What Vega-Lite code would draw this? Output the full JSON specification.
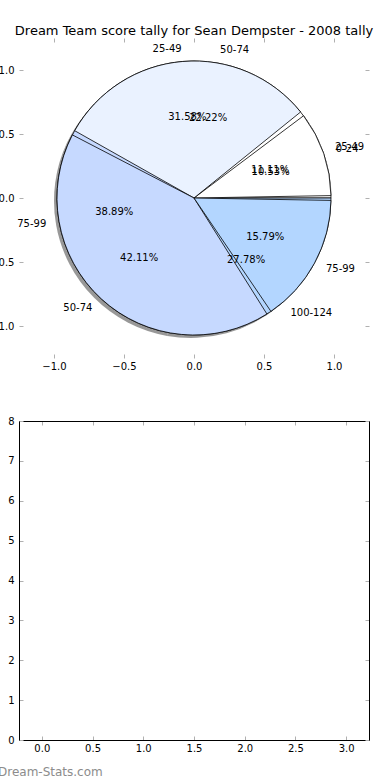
{
  "$schema": "https://vega.github.io/schema/vega-lite/v6.json",
  "background": "white",
  "autosize": {"type": "pad"},
  "padding": {"left": -11, "top": 24, "right": 5, "bottom": 2},
  "bounds": "flush",
  "spacing": 63,
  "datasets": {
    "tally1": [
      {"label": "0-24", "k": 0, "share": 0.105263},
      {"label": "25-49", "k": 1, "share": 0.315789},
      {"label": "50-74", "k": 2, "share": 0.421053},
      {"label": "75-99", "k": 3, "share": 0.157895}
    ],
    "tally2": [
      {"label": "25-49", "k": 0, "share": 0.111111},
      {"label": "50-74", "k": 1, "share": 0.222222},
      {"label": "75-99", "k": 2, "share": 0.388889},
      {"label": "100-124", "k": 3, "share": 0.277778}
    ]
  },
  "config": {
    "font": "DejaVu Sans",
    "view": {"stroke": null},
    "axis": {
      "labelFont": "DejaVu Sans",
      "labelFontSize": 10,
      "labelColor": "#000000",
      "tickColor": "#b0b0b0",
      "tickSize": -4,
      "tickWidth": 1,
      "grid": false,
      "labelPadding": 9,
      "domain": false
    },
    "axisX": {"labelPadding": 7.5},
    "text": {"font": "DejaVu Sans", "fontSize": 10, "color": "#000000"}
  },
  "vconcat": [
    {
      "width": 350,
      "height": 320,
      "title": {
        "text": "Dream Team score tally for Sean Dempster - 2008 tally",
        "fontSize": 13,
        "fontWeight": "normal",
        "color": "#000000",
        "font": "DejaVu Sans",
        "offset": 0
      },
      "resolve": {"axis": {"x": "independent", "y": "independent"}},
      "layer": [
        {
          "data": {"values": [{}]},
          "mark": {"type": "point", "opacity": 0},
          "encoding": {
            "x": {"datum": 0, "type": "quantitative", "title": null,
              "scale": {"domain": [-1.25, 1.25], "nice": false, "zero": false},
              "axis": {"orient": "bottom", "values": [-1, -0.5, 0, 0.5, 1], "format": ".1f"}},
            "y": {"datum": 0, "type": "quantitative", "title": null,
              "scale": {"domain": [-1.25, 1.25], "nice": false, "zero": false},
              "axis": {"orient": "left", "values": [-1, -0.5, 0, 0.5, 1], "format": ".1f"}}
          }
        },
        {
          "data": {"values": [{}]},
          "mark": {"type": "point", "opacity": 0},
          "encoding": {
            "x": {"datum": 0, "type": "quantitative", "title": null,
              "axis": {"orient": "top", "values": [-1, -0.5, 0, 0.5, 1], "labels": false}},
            "y": {"datum": 0, "type": "quantitative", "title": null,
              "axis": {"orient": "right", "values": [-1, -0.5, 0, 0.5, 1], "labels": false}}
          }
        },
        {
          "data": {"name": "tally2"},
          "mark": {"type": "arc", "radius": 137, "fill": "#444444", "opacity": 0.55, "xOffset": -3, "yOffset": 3},
          "encoding": {
            "theta": {"field": "share", "type": "quantitative", "stack": true,
              "scale": {"domain": [0, 1], "range": [1.5707963, -4.712389]}},
            "order": {"field": "k"}
          }
        },
        {
          "data": {"name": "tally2"},
          "mark": {"type": "arc", "radius": 137, "stroke": "#000000", "strokeWidth": 0.8},
          "encoding": {
            "theta": {"field": "share", "type": "quantitative", "stack": true},
            "order": {"field": "k"},
            "color": {"field": "k", "type": "ordinal", "legend": null,
              "scale": {"domain": [0, 1, 2, 3], "range": ["#ffffff", "#eaf2ff", "#c6d9ff", "#b3d6ff"]}}
          }
        },
        {
          "data": {"name": "tally1"},
          "mark": {"type": "arc", "radius": 137, "stroke": "#000000", "strokeWidth": 0.8, "padAngle": 0.035},
          "encoding": {
            "theta": {"field": "share", "type": "quantitative", "stack": true},
            "order": {"field": "k"},
            "color": {"field": "k", "type": "ordinal", "legend": null}
          }
        },
        {
          "data": {"name": "tally1"},
          "mark": {"type": "text", "radius": 81, "align": "center", "baseline": "middle"},
          "encoding": {
            "theta": {"field": "share", "type": "quantitative", "stack": true},
            "order": {"field": "k"},
            "text": {"field": "share", "format": ".2%"}
          }
        },
        {
          "data": {"name": "tally2"},
          "mark": {"type": "text", "radius": 81, "align": "center", "baseline": "middle"},
          "encoding": {
            "theta": {"field": "share", "type": "quantitative", "stack": true},
            "order": {"field": "k"},
            "text": {"field": "share", "format": ".2%"}
          }
        },
        {
          "data": {"name": "tally1"},
          "mark": {"type": "text", "radius": 150, "align": "left", "baseline": "middle"},
          "encoding": {
            "theta": {"field": "share", "type": "quantitative", "stack": true},
            "order": {"field": "k"},
            "text": {"condition": {"test": "datum.label == '0-24' || datum.label == '75-99'", "field": "label"}, "value": ""}
          }
        },
        {
          "data": {"name": "tally1"},
          "mark": {"type": "text", "radius": 150, "align": "right", "baseline": "middle"},
          "encoding": {
            "theta": {"field": "share", "type": "quantitative", "stack": true},
            "order": {"field": "k"},
            "text": {"condition": {"test": "datum.label == '25-49' || datum.label == '50-74'", "field": "label"}, "value": ""}
          }
        },
        {
          "data": {"name": "tally2"},
          "mark": {"type": "text", "radius": 150, "align": "left", "baseline": "middle"},
          "encoding": {
            "theta": {"field": "share", "type": "quantitative", "stack": true},
            "order": {"field": "k"},
            "text": {"condition": {"test": "datum.label != '75-99'", "field": "label"}, "value": ""}
          }
        },
        {
          "data": {"name": "tally2"},
          "mark": {"type": "text", "radius": 150, "align": "right", "baseline": "middle"},
          "encoding": {
            "theta": {"field": "share", "type": "quantitative", "stack": true},
            "order": {"field": "k"},
            "text": {"condition": {"test": "datum.label == '75-99'", "field": "label"}, "value": ""}
          }
        }
      ]
    },
    {
      "width": 350,
      "height": 319,
      "title": {
        "text": "Dream-Stats.com",
        "orient": "bottom",
        "anchor": "start",
        "frame": "group",
        "dx": -21,
        "offset": 13,
        "fontSize": 12,
        "fontWeight": "normal",
        "color": "#8c8c8c",
        "font": "DejaVu Sans"
      },
      "resolve": {"axis": {"x": "independent", "y": "independent"}},
      "layer": [
        {
          "data": {"values": [{}]},
          "mark": {"type": "point", "opacity": 0},
          "encoding": {
            "x": {"datum": 0, "type": "quantitative", "title": null,
              "scale": {"domain": [-0.225, 3.225], "nice": false, "zero": false},
              "axis": {"orient": "bottom", "values": [0, 0.5, 1, 1.5, 2, 2.5, 3], "format": ".1f", "domain": true, "domainColor": "#000000", "domainWidth": 1}},
            "y": {"datum": 0, "type": "quantitative", "title": null,
              "scale": {"domain": [0, 8], "nice": false},
              "axis": {"orient": "left", "values": [0, 1, 2, 3, 4, 5, 6, 7, 8], "format": "d", "domain": true, "domainColor": "#000000", "domainWidth": 1}}
          }
        },
        {
          "data": {"values": [{}]},
          "mark": {"type": "point", "opacity": 0},
          "encoding": {
            "x": {"datum": 0, "type": "quantitative", "title": null,
              "axis": {"orient": "top", "values": [0, 0.5, 1, 1.5, 2, 2.5, 3], "labels": false, "domain": true, "domainColor": "#000000", "domainWidth": 1}},
            "y": {"datum": 0, "type": "quantitative", "title": null,
              "axis": {"orient": "right", "values": [0, 1, 2, 3, 4, 5, 6, 7, 8], "labels": false, "domain": true, "domainColor": "#000000", "domainWidth": 1}}
          }
        }
      ]
    }
  ]
}
